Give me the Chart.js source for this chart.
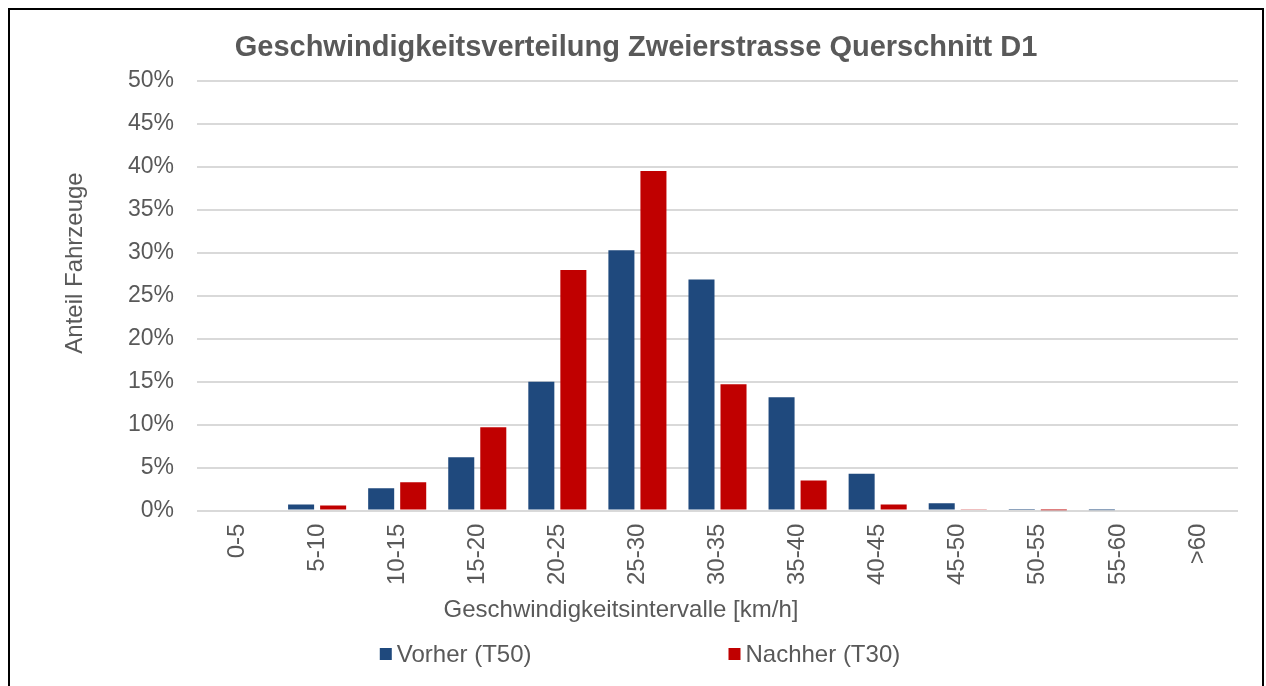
<!DOCTYPE html>
<html>
<head>
<meta charset="utf-8">
<script src="https://cdn.jsdelivr.net/npm/chart.js@4"></script>
<style>
  body { margin: 0; background: #fff; overflow: hidden; }
  #frame {
    position: absolute; left: 8px; top: 8px;
    width: 1252px; height: 700px;
    border: 2px solid #000; background: #fff;
  }
  canvas { display: block; }
</style>
</head>
<body>
<div id="frame"><canvas id="speedChart" width="1252" height="676"></canvas></div>
<script>
// speed intervals and shares (in %)
const intervals = ['0-5','5-10','10-15','15-20','20-25','25-30','30-35','35-40','40-45','45-50','50-55','55-60','>60'];
const vorher  = [0, 0.7, 2.6, 6.2, 15.0, 30.3, 26.9, 13.2, 4.3, 0.85, 0.2, 0.05, 0];
const nachher = [0, 0.6, 3.3, 9.7, 28.0, 39.5, 14.7, 3.5, 0.7, 0.1, 0.02, 0, 0];

const textColor = '#595959';
const fontFamily = 'Arial, "Liberation Sans", sans-serif';
const yTitle = 'Anteil Fahrzeuge';
const xTitle = 'Geschwindigkeitsintervalle [km/h]';

// Excel-like legend (wide spacing), axis titles placed like the original
const excelExtras = {
  id: 'excelExtras',
  afterDraw(chart) {
    const c = chart.ctx;
    c.save();
    c.font = '24px ' + fontFamily;
    c.fillStyle = textColor;
    c.textBaseline = 'middle';

    // y axis title, rotated
    c.save();
    c.translate(65, 253);
    c.rotate(-Math.PI / 2);
    c.textAlign = 'center';
    c.fillText(yTitle, 0, 0);
    c.restore();

    // x axis title
    c.textAlign = 'center';
    c.fillText(xTitle, 611, 600);

    // legend
    const box = 12, gap = 5, spacing = 197, y = 644;
    const items = chart.data.datasets.map(ds => ({
      text: ds.label, color: ds.backgroundColor, w: box + gap + c.measureText(ds.label).width
    }));
    const total = items.reduce((s, it) => s + it.w, 0) + spacing * (items.length - 1);
    let x = (chart.width - total) / 2 + 4;
    c.textAlign = 'left';
    items.forEach(it => {
      c.fillStyle = it.color;
      c.fillRect(x, y - box / 2, box, box);
      c.fillStyle = textColor;
      c.fillText(it.text, x + box + gap, y + 1);
      x += it.w + spacing;
    });
    c.restore();
  }
};

const ctx = document.getElementById('speedChart').getContext('2d');
const chart = new Chart(ctx, {
  type: 'bar',
  data: {
    labels: intervals,
    datasets: [
      { label: 'Vorher (T50)', data: vorher, backgroundColor: '#1F497D' },
      { label: 'Nachher (T30)', data: nachher, backgroundColor: '#C00000' }
    ]
  },
  plugins: [excelExtras],
  options: {
    responsive: false,
    animation: false,
    categoryPercentage: 0.8,
    barPercentage: 0.8125,
    layout: { padding: { left: 24, right: 24, top: 0, bottom: 96 } },
    plugins: {
      title: {
        display: true,
        text: 'Geschwindigkeitsverteilung Zweierstrasse Querschnitt D1',
        color: textColor,
        font: { family: fontFamily, size: 29, weight: 'bold' },
        padding: { top: 21, bottom: 15 }
      },
      legend: { display: false },
      tooltip: { enabled: false }
    },
    scales: {
      x: {
        grid: { display: false },
        border: { display: false },
        ticks: {
          color: textColor,
          font: { family: fontFamily, size: 24 },
          maxRotation: 90, minRotation: 90,
          autoSkip: false,
          padding: 5
        }
      },
      y: {
        min: 0, max: 50,
        afterFit: (axis) => { axis.width = 163; },
        grid: { color: '#D9D9D9', lineWidth: 2, drawTicks: false },
        border: { display: false },
        ticks: {
          stepSize: 5,
          autoSkip: false,
          color: textColor,
          font: { family: fontFamily, size: 23 },
          padding: 23,
          callback: v => v + '%'
        }
      }
    }
  }
});
</script>
</body>
</html>
